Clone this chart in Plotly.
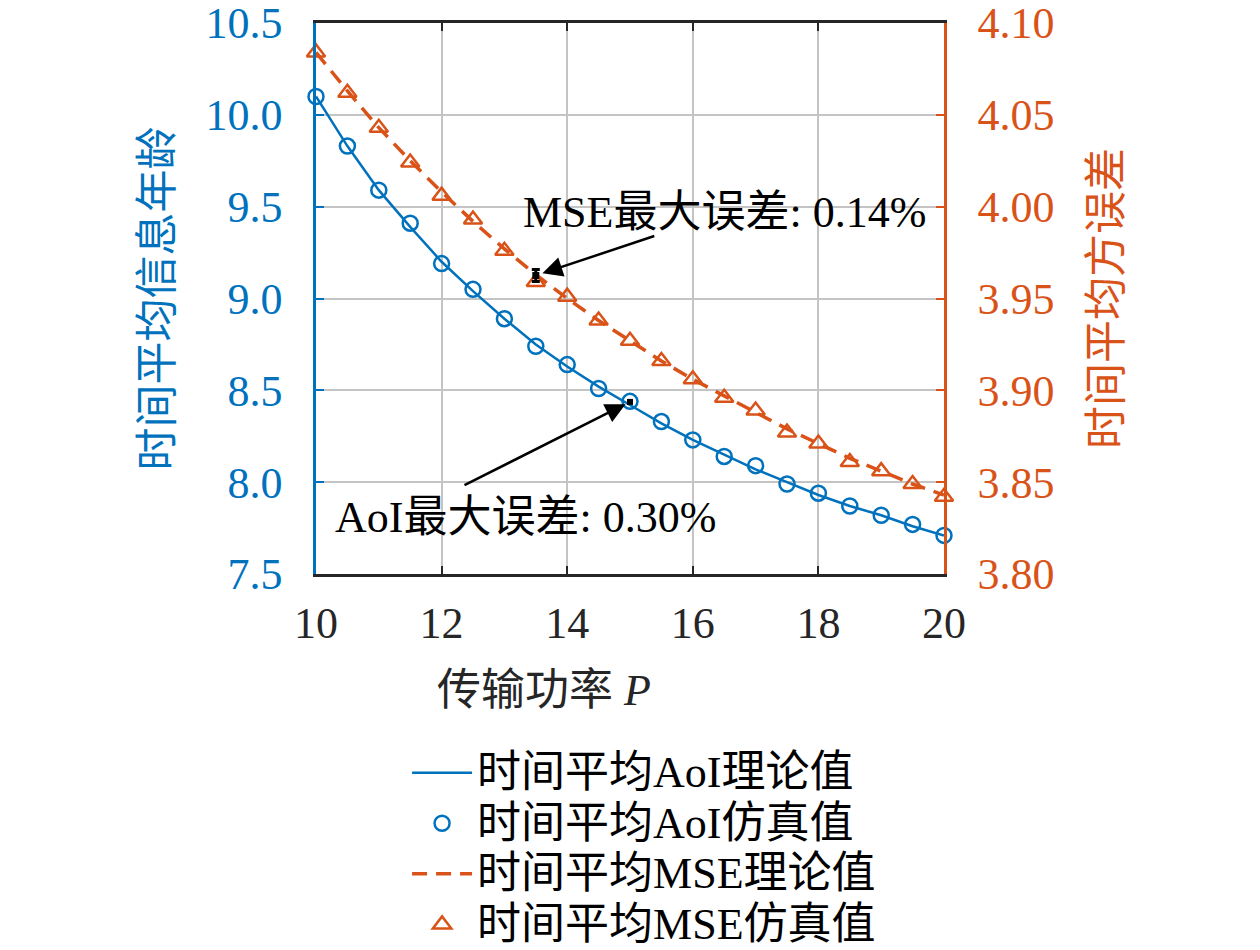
import plotly.graph_objects as go

# data
P = [10, 10.5, 11, 11.5, 12, 12.5, 13, 13.5, 14, 14.5, 15,
     15.5, 16, 16.5, 17, 17.5, 18, 18.5, 19, 19.5, 20]

aoi_theory = [10.10, 9.83, 9.59, 9.39, 9.20, 9.04, 8.89, 8.75, 8.63, 8.52, 8.42,
              8.32, 8.23, 8.15, 8.07, 8.00, 7.93, 7.87, 7.82, 7.76, 7.71]
aoi_sim = [10.10, 9.83, 9.59, 9.41, 9.19, 9.05, 8.89, 8.74, 8.64, 8.51, 8.44,
           8.33, 8.23, 8.14, 8.09, 7.99, 7.94, 7.87, 7.82, 7.77, 7.71]

mse_theory = [4.084, 4.063, 4.043, 4.025, 4.008, 3.992, 3.977, 3.963, 3.950, 3.938, 3.927,
              3.916, 3.906, 3.897, 3.888, 3.879, 3.871, 3.863, 3.856, 3.849, 3.843]
mse_sim = [4.084, 4.062, 4.043, 4.024, 4.006, 3.993, 3.976, 3.959, 3.951, 3.938, 3.927,
           3.916, 3.906, 3.896, 3.889, 3.877, 3.871, 3.861, 3.856, 3.849, 3.842]

# points of maximum error (marked with small black error bars)
aoi_err_x = [15]
aoi_err_y = [8.437]
aoi_err = [0.004]
mse_err_x = [13.5]
mse_err_y = [3.9625]
mse_err = [0.0033]

legend_names = ["时间平均AoI理论值", "时间平均AoI仿真值", "时间平均MSE理论值", "时间平均MSE仿真值"]

BLUE = "#0072BD"
ORANGE = "#D95319"
DARK = "#262626"
FONT = "Liberation Serif, Noto Sans CJK SC, serif"


def big(s):
    # legend rows are measured from the legend font, text drawn larger
    return '<span style="font-size:44px">' + s + "</span>"


fig = go.Figure()

fig.add_trace(go.Scatter(x=P, y=aoi_theory, mode="lines", name=big(legend_names[0]),
                         line=dict(color=BLUE, width=2.5), yaxis="y"))
fig.add_trace(go.Scatter(x=P, y=aoi_sim, mode="markers", name=big(legend_names[1]),
                         marker=dict(symbol="circle-open", size=15, color=BLUE,
                                     line=dict(width=2.5, color=BLUE)),
                         cliponaxis=False, yaxis="y"))
fig.add_trace(go.Scatter(x=P, y=mse_theory, mode="lines", name=big(legend_names[2]),
                         line=dict(color=ORANGE, width=3.5, dash="15px,9px"), yaxis="y2"))
fig.add_trace(go.Scatter(x=P, y=mse_sim, mode="markers", name=big(legend_names[3]),
                         marker=dict(symbol="triangle-up-open", size=16, color=ORANGE,
                                     line=dict(width=2.5, color=ORANGE)),
                         cliponaxis=False, yaxis="y2"))

# max-error markers
fig.add_trace(go.Scatter(x=aoi_err_x, y=aoi_err_y, mode="markers", showlegend=False,
                         marker=dict(symbol="square", size=6, color="black"),
                         error_y=dict(type="data", array=aoi_err, color="black",
                                      thickness=2, width=3),
                         cliponaxis=False, yaxis="y"))
fig.add_trace(go.Scatter(x=mse_err_x, y=mse_err_y, mode="markers", showlegend=False,
                         marker=dict(symbol="square", size=7, color="black"),
                         error_y=dict(type="data", array=mse_err, color="black",
                                      thickness=3, width=4),
                         cliponaxis=False, yaxis="y2"))

# arrows and labels
fig.add_annotation(x=mse_err_x[0], y=mse_err_y[0], xref="x", yref="y2",
                   ax=120, ay=-40, axref="pixel", ayref="pixel",
                   showarrow=True, arrowhead=2, arrowsize=1.6, arrowwidth=2.5,
                   arrowcolor="black", standoff=7, text="")
fig.add_annotation(x=16.50, y=3.997, xref="x", yref="y2", showarrow=False,
                   text="MSE最大误差: 0.14%", font=dict(family=FONT, size=44, color="black"))
fig.add_annotation(x=aoi_err_x[0], y=aoi_err_y[0], xref="x", yref="y",
                   ax=-167, ay=84, axref="pixel", ayref="pixel",
                   showarrow=True, arrowhead=2, arrowsize=1.6, arrowwidth=2.5,
                   arrowcolor="black", standoff=5, text="")
fig.add_annotation(x=13.33, y=7.81, xref="x", yref="y", showarrow=False,
                   text="AoI最大误差: 0.30%", font=dict(family=FONT, size=44, color="black"))

# x-axis title sits left of centre in the reference, so place it as an annotation
fig.add_annotation(x=0.363, y=0, xref="paper", yref="paper", yshift=-116,
                   xanchor="center", yanchor="middle", showarrow=False,
                   text="传输功率 <i>P</i>", font=dict(family=FONT, size=44, color=DARK))

fig.update_layout(
    width=1260, height=950,
    # the page body adds an 8px offset, so margins are shifted by that amount
    margin=dict(l=308, r=324, t=15, b=384),
    paper_bgcolor="white", plot_bgcolor="white",
    font=dict(family=FONT, size=44, color=DARK),
    xaxis=dict(range=[10, 20], dtick=2, showgrid=True, gridcolor="#c4c4c4", gridwidth=1.5,
               zeroline=False, showline=True, linecolor=DARK, linewidth=2.5, mirror="ticks",
               ticks="inside", ticklen=8, tickwidth=2, tickcolor=DARK, automargin=False,
               tickfont=dict(size=44, color=DARK), ticklabelstandoff=8,
               ticklabeloverflow="allow"),
    yaxis=dict(range=[7.5, 10.5], dtick=0.5, tickformat=".1f", showgrid=True,
               gridcolor="#c4c4c4", gridwidth=1.5, zeroline=False, automargin=False,
               showline=True, linecolor=BLUE, linewidth=2.5,
               ticks="inside", ticklen=8, tickwidth=2, tickcolor=BLUE,
               tickfont=dict(size=44, color=BLUE), ticklabelstandoff=22,
               ticklabeloverflow="allow",
               title=dict(text="时间平均信息年龄", font=dict(size=43, color=BLUE), standoff=20)),
    yaxis2=dict(range=[3.80, 4.10], dtick=0.05, tickformat=".2f", overlaying="y", side="right",
                showgrid=False, zeroline=False, showline=True, linecolor=ORANGE, linewidth=2.5,
                ticks="inside", ticklen=8, tickwidth=2, tickcolor=ORANGE, automargin=False,
                tickfont=dict(size=44, color=ORANGE), ticklabelstandoff=22,
                ticklabeloverflow="allow",
                title=dict(text="时间平均方误差", font=dict(size=43, color=ORANGE), standoff=38)),
    legend=dict(x=0.145, y=0.227, xref="paper", yref="container",
                xanchor="left", yanchor="top",
                font=dict(size=36.6, color="black"), itemwidth=60,
                bgcolor="rgba(0,0,0,0)", borderwidth=0),
    showlegend=True,
)

fig.write_html("out.html")
